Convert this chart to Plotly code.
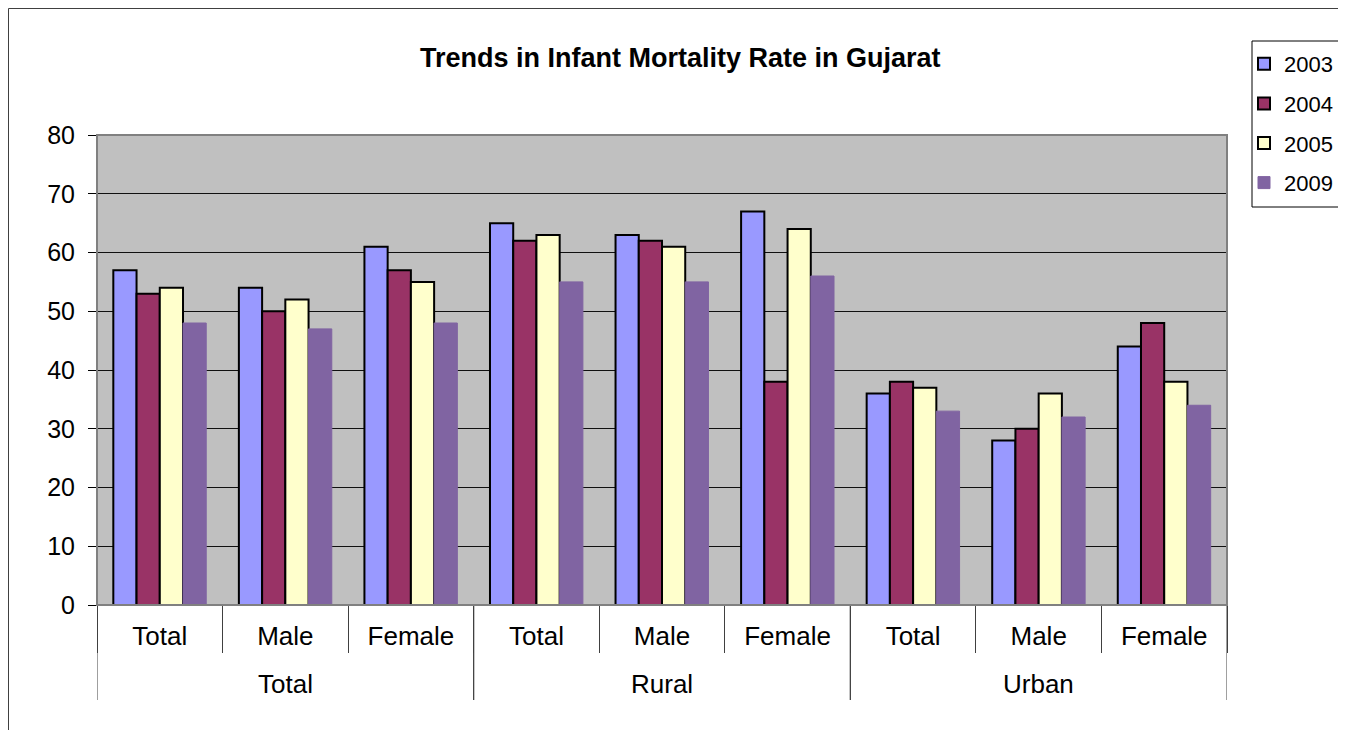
import plotly.graph_objects as go

groups = ["Total"] * 3 + ["Rural"] * 3 + ["Urban"] * 3
subcats = ["Total", "Male", "Female"] * 3
years = ["2003", "2004", "2005", "2009"]
v2003 = [57, 54, 61, 65, 63, 67, 36, 28, 44]
v2004 = [53, 50, 57, 62, 62, 38, 38, 30, 48]
v2005 = [54, 52, 55, 63, 61, 64, 37, 36, 38]
v2009 = [48, 47, 48, 55, 55, 56, 33, 32, 34]
series = [v2003, v2004, v2005, v2009]
colors = ["#9999FF", "#993366", "#FFFFCC", "#8064A2"]
outlines = ["#000000", "#000000", "#000000", "#8064A2"]
outline_w = [2, 2, 2, 1]

cats = [f"{g} - {s}" for g, s in zip(groups, subcats)]

OFF = 8  # page offset of the figure (body margin)
W, H = 1330, 722
# plot area in page coordinates
PX0, PX1, PY0, PY1 = 97, 1227, 135, 605
L, R, T, B = PX0 - OFF, W - (PX1 - OFF), PY0 - OFF, H - (PY1 - OFF)
pw, ph = W - L - R, H - T - B


def px(x):
    return (x - OFF - L) / pw


def py(y):
    return 1 - (y - OFF - T) / ph


def cx(x):
    return (x - OFF) / W


def cy(y):
    return 1 - (y - OFF) / H


fig = go.Figure()
for i, (name, vals) in enumerate(zip(years, series)):
    fig.add_trace(go.Bar(
        x=cats, y=vals, name=name,
        marker=dict(color=colors[i], line=dict(color=outlines[i], width=outline_w[i])),
        legendgroup=name,
    ))

# outer group labels and group dividers
annotations = [dict(text="<b>Trends in Infant Mortality Rate in Gujarat</b>",
                    x=px(680), y=py(58), xref="paper", yref="paper",
                    showarrow=False, font=dict(size=27), xanchor="center", yanchor="middle")]
shapes = []
unique_groups = list(dict.fromkeys(groups))
for g in unique_groups:
    idx = [i for i, gg in enumerate(groups) if gg == g]
    mid = (idx[0] + idx[-1]) / 2
    annotations.append(dict(text=g, x=mid, y=py(684), xref="x", yref="paper",
                            showarrow=False, font=dict(size=26), xanchor="center",
                            yanchor="middle"))
    for b in (idx[0] - 0.5, idx[-1] + 0.5):
        shapes.append(dict(type="line", xref="x", yref="paper", x0=b, x1=b,
                           y0=0, y1=py(700), line=dict(color="#404040", width=1)))

shapes += [
    dict(type="rect", xref="paper", yref="paper",
         x0=px(8.5), x1=px(1400), y0=py(800), y1=py(8.5),
         line=dict(color="#404040", width=1), fillcolor="rgba(0,0,0,0)", layer="below"),
    dict(type="rect", xref="paper", yref="paper",
         x0=px(1252), x1=px(1400), y0=py(207), y1=py(41),
         line=dict(color="black", width=1), fillcolor="rgba(0,0,0,0)"),
    dict(type="rect", xref="paper", yref="paper", x0=0, x1=1, y0=0, y1=1,
         line=dict(color="#808080", width=2), fillcolor="rgba(0,0,0,0)", layer="above"),
]

fig.update_layout(
    width=W, height=H, autosize=False,
    margin=dict(l=L, r=R, t=T, b=B, autoexpand=False),
    paper_bgcolor="white", plot_bgcolor="#C0C0C0",
    barmode="group", bargap=0.26, bargroupgap=0,
    font=dict(family="Arial, Liberation Sans, sans-serif", size=25, color="black"),
    showlegend=True,
    legend=dict(x=cx(1244), y=cy(43), xref="container", yref="container",
                xanchor="left", yanchor="top",
                font=dict(size=22), tracegroupgap=8, bgcolor="rgba(0,0,0,0)",
                itemwidth=30),
    annotations=annotations,
    shapes=shapes,
)
fig.update_yaxes(range=[0, 80], dtick=10, showgrid=True, gridcolor="#101010", gridwidth=1,
                 ticks="outside", ticklen=8, tickcolor="black", showline=True,
                 linecolor="#404040", linewidth=1, zeroline=False, tickfont=dict(size=25),
                 ticklabelstandoff=8)
fig.update_xaxes(showline=True, linecolor="#404040", ticks="outside",
                 tickson="boundaries", ticklen=47, tickcolor="#404040",
                 tickmode="array", tickvals=cats, ticktext=subcats,
                 range=[-0.5, len(cats) - 0.5],
                 tickfont=dict(size=26), ticklabelstandoff=8)

fig.write_html("out.html")
